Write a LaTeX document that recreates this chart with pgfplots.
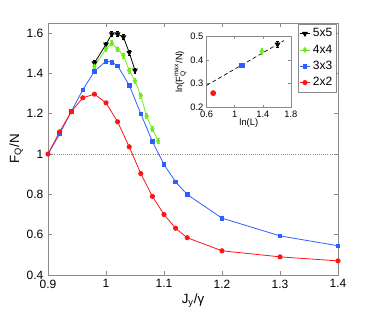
\documentclass[border=0pt]{standalone}
\usepackage{pgfplots}
\pgfplotsset{compat=1.18}
\usepackage{fontspec}
\setmainfont{Liberation Sans}
\definecolor{cred}{RGB}{255,20,20}
\definecolor{cblue}{RGB}{45,95,255}
\definecolor{cgreen}{RGB}{110,235,30}
\definecolor{axgray}{RGB}{140,140,140}
\begin{document}
\begin{tikzpicture}
\begin{axis}[
  name=main,
  scale only axis,
  width=217.5pt, height=189pt,
  xmin=0.9, xmax=1.4, ymin=0.4, ymax=1.65,
  xtick={0.9,1,1.1,1.2,1.3,1.4},
  ytick={0.4,0.6,0.8,1,1.2,1.4,1.6},
  xticklabels={0.9,1,1.1,1.2,1.3,1.4},
  yticklabels={0.4,0.6,0.8,1,1.2,1.4,1.6},
  tick label style={font=\fontsize{9}{10}\selectfont},
  axis line style={axgray, line width=0.6pt},
  tick style={axgray, line width=0.5pt},
  major tick length=3pt,
  xlabel={J$_{\mathrm{y}}$/γ},
  ylabel={F$_{\mathrm{Q}}$/N},
  xlabel style={font=\fontsize{10}{11}\selectfont, yshift=3pt},
  ylabel style={font=\fontsize{10}{11}\selectfont, yshift=-4pt},
  legend style={at={(0.995,0.995)}, anchor=north east, font=\fontsize{9}{10}\selectfont, draw=axgray, inner sep=1pt, row sep=0.5pt, cells={anchor=west}},
  legend image code/.code={\draw[mark repeat=2,mark phase=2] plot coordinates {(0cm,0cm) (0.13cm,0cm) (0.26cm,0cm)};},
  every axis plot/.append style={line width=0.6pt, mark size=1.6pt},
]
\addplot[axgray, densely dotted, line width=0.8pt, forget plot] coordinates {(0.9,1) (1.4,1)};
\addplot[black, mark=triangle*, mark options={rotate=180, scale=1.2}, error bars/.cd, y dir=both, y explicit, error bar style={line width=0.5pt}, error mark options={rotate=90, mark size=1pt}] coordinates {
(0.98,1.451) +- (0,0.012)
(1.00,1.544) +- (0,0.012)
(1.01,1.595) +- (0,0.012)
(1.02,1.595) +- (0,0.012)
(1.03,1.580) +- (0,0.012)
(1.04,1.504) +- (0,0.012)
(1.05,1.415) +- (0,0.012)
};
\addlegendentry{5x5}
\addplot[cgreen, mark=diamond*, mark options={scale=1.1}, error bars/.cd, y dir=both, y explicit, error bar style={line width=0.5pt}, error mark options={rotate=90, mark size=1pt}] coordinates {
(0.98,1.435) +- (0,0.012)
(1.00,1.521) +- (0,0.012)
(1.01,1.550) +- (0,0.012)
(1.02,1.520) +- (0,0.012)
(1.03,1.489) +- (0,0.012)
(1.04,1.415) +- (0,0.012)
(1.05,1.363) +- (0,0.012)
(1.06,1.290) +- (0,0.012)
(1.07,1.188) +- (0,0.012)
(1.08,1.124) +- (0,0.012)
(1.09,1.064) +- (0,0.012)
};
\addlegendentry{4x4}
\addplot[cblue, mark=square*, mark options={scale=0.85}] coordinates {
(0.90,1.000) (0.92,1.099) (0.94,1.210) (0.96,1.319) (0.98,1.410) (1.00,1.461) (1.01,1.456) (1.02,1.438) (1.04,1.342) (1.06,1.200) (1.08,1.062) (1.10,0.948) (1.12,0.862) (1.14,0.799) (1.20,0.682) (1.30,0.594) (1.40,0.545)
};
\addlegendentry{3x3}
\addplot[cred, mark=*] coordinates {
(0.90,1.000) (0.92,1.110) (0.94,1.210) (0.96,1.279) (0.98,1.297) (1.00,1.254) (1.02,1.160) (1.04,1.036) (1.06,0.903) (1.08,0.790) (1.10,0.700) (1.12,0.632) (1.14,0.585) (1.20,0.520) (1.30,0.490) (1.40,0.470)
};
\addlegendentry{2x2}
\end{axis}
\begin{axis}[
  at={(main.south west)}, anchor=south west,
  xshift=119pt, yshift=125.8pt,
  scale only axis,
  width=63.2pt, height=53pt,
  xmin=0.6, xmax=1.8, ymin=0.2, ymax=0.5,
  xtick={0.6,1,1.4,1.8}, ytick={0.2,0.3,0.4,0.5},
  xticklabels={0.6,1,1.4,1.8}, yticklabels={0.2,0.3,0.4,0.5},
  tick label style={font=\fontsize{7}{8}\selectfont},
  yticklabel style={xshift=1pt},
  xticklabel style={yshift=1pt},
  axis line style={axgray, line width=0.5pt},
  tick style={axgray, line width=0.4pt},
  major tick length=2pt,
  xlabel={ln(L)}, ylabel={ln(F$_{\mathrm{Q}}^{\mathrm{max}}$/N)},
  xlabel style={font=\fontsize{7}{8}\selectfont, yshift=6pt},
  ylabel style={font=\fontsize{7}{8}\selectfont, yshift=-4pt},
  every axis plot/.append style={line width=0.5pt, mark size=1.9pt},
]
\addplot[black, densely dashed, line width=0.5pt] coordinates {(0.6,0.293) (1.70,0.483)};
\addplot[cred, only marks, mark=*] coordinates {(0.693,0.260)};
\addplot[cblue, only marks, mark=square*, mark options={scale=0.85}] coordinates {(1.0986,0.379)};
\addplot[cgreen, only marks, mark=diamond*, error bars/.cd, y dir=both, y explicit, error mark options={rotate=90, mark size=1pt}] coordinates {(1.386,0.437) +- (0,0.012)};
\addplot[black, only marks, mark=triangle*, mark options={rotate=180, scale=1.1}, error bars/.cd, y dir=both, y explicit, error mark options={rotate=90, mark size=1pt}] coordinates {(1.609,0.467) +- (0,0.012)};
\end{axis}
\path (main.south west) ++(-36pt,-25.5pt) coordinate (bbA);
\path (main.north east) ++(27pt,17.25pt) coordinate (bbB);
\path (bbA) rectangle (bbB);
\end{tikzpicture}
\end{document}
